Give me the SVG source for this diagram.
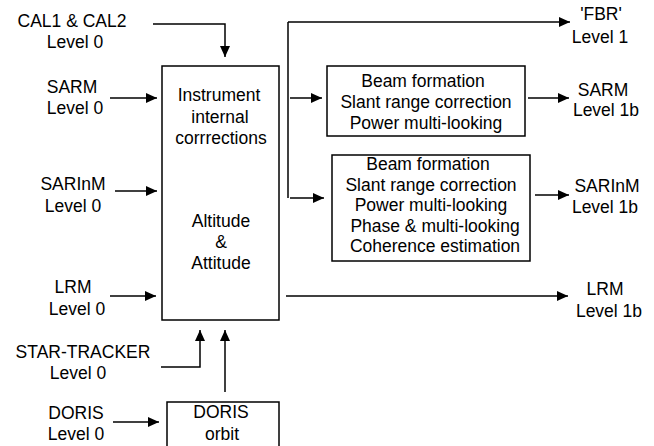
<svg xmlns="http://www.w3.org/2000/svg" width="654" height="446" viewBox="0 0 654 446">
  <defs>
    <marker id="arrow" viewBox="0 0 11 10" refX="11" refY="5" markerWidth="11" markerHeight="10" markerUnits="userSpaceOnUse" orient="auto">
      <path d="M0,0 L11,5 L0,10 Z" fill="#000"/>
    </marker>
    <style>
      text { font-family: "Liberation Sans", Arial, Helvetica, sans-serif; font-size: 17.5px; fill: #000; text-anchor: middle; }
      .box { fill: #fff; stroke: #000; stroke-width: 1.5; }
      .wire { fill: none; stroke: #000; stroke-width: 1.5; }
      .arr { marker-end: url(#arrow); }
    </style>
  </defs>
  <rect width="654" height="446" fill="#fff"/>

  <!-- connectors -->
  <g id="connectors">
    <path class="wire arr" d="M153,24 H225 V57"/>
    <path class="wire arr" d="M110,98 H157"/>
    <path class="wire arr" d="M115,191 H157"/>
    <path class="wire arr" d="M110,296 H156"/>
    <path class="wire arr" d="M161,367 H200 V330"/>
    <path class="wire arr" d="M225,392 V330"/>
    <path class="wire arr" d="M113,422 H159"/>
    <path class="wire" d="M288,198 V22"/>
    <path class="wire arr" d="M288,22 H570"/>
    <path class="wire arr" d="M290,98 H322"/>
    <path class="wire arr" d="M290,198 H324"/>
    <path class="wire arr" d="M528,98 H569"/>
    <path class="wire arr" d="M535,195 H569"/>
    <path class="wire arr" d="M286,296 H568"/>
  </g>

  <!-- input labels -->
  <g id="in-cal">
    <text x="72" y="27">CAL1 &amp; CAL2</text>
    <text x="75" y="48">Level 0</text>
  </g>
  <g id="in-sarm">
    <text x="72" y="93">SARM</text>
    <text x="75" y="114">Level 0</text>
  </g>
  <g id="in-sarinm">
    <text x="73" y="190">SARInM</text>
    <text x="73" y="212">Level 0</text>
  </g>
  <g id="in-lrm">
    <text x="73" y="293">LRM</text>
    <text x="77" y="315">Level 0</text>
  </g>
  <g id="in-star">
    <text x="83" y="358">STAR-TRACKER</text>
    <text x="78" y="379">Level 0</text>
  </g>
  <g id="in-doris">
    <text x="76" y="419">DORIS</text>
    <text x="76" y="440">Level 0</text>
  </g>

  <!-- main processing block -->
  <g id="main">
    <rect class="box" x="162" y="66" width="117" height="254"/>
    <text x="219" y="101">Instrument</text>
    <text x="220" y="123">internal</text>
    <text x="221" y="144">corrrections</text>
    <text x="221" y="227">Altitude</text>
    <text x="221" y="248">&amp;</text>
    <text x="221" y="269">Attitude</text>
  </g>

  <!-- orbit block -->
  <g id="doris-orbit">
    <rect class="box" x="167" y="402" width="112" height="60"/>
    <text x="221" y="418">DORIS</text>
    <text x="222" y="440">orbit</text>
  </g>

  <!-- SARM chain -->
  <g id="sarm-proc">
    <rect class="box" x="327" y="66" width="198" height="70"/>
    <text x="423" y="87">Beam formation</text>
    <text x="426" y="108">Slant range correction</text>
    <text x="426" y="129">Power multi-looking</text>
  </g>

  <!-- SARInM chain -->
  <g id="sarinm-proc">
    <rect class="box" x="332" y="155" width="198" height="106"/>
    <text x="428" y="170">Beam formation</text>
    <text x="431" y="190.5">Slant range correction</text>
    <text x="431" y="211">Power multi-looking</text>
    <text x="435" y="231.5">Phase &amp; multi-looking</text>
    <text x="435" y="252">Coherence estimation</text>
  </g>

  <!-- outputs -->
  <g id="out-fbr">
    <text x="601" y="20">'FBR'</text>
    <text x="600" y="43">Level 1</text>
  </g>
  <g id="out-sarm">
    <text x="603" y="96">SARM</text>
    <text x="606" y="116">Level 1b</text>
  </g>
  <g id="out-sarinm">
    <text x="607" y="192">SARInM</text>
    <text x="605" y="213">Level 1b</text>
  </g>
  <g id="out-lrm">
    <text x="605" y="295">LRM</text>
    <text x="609" y="317">Level 1b</text>
  </g>
</svg>
